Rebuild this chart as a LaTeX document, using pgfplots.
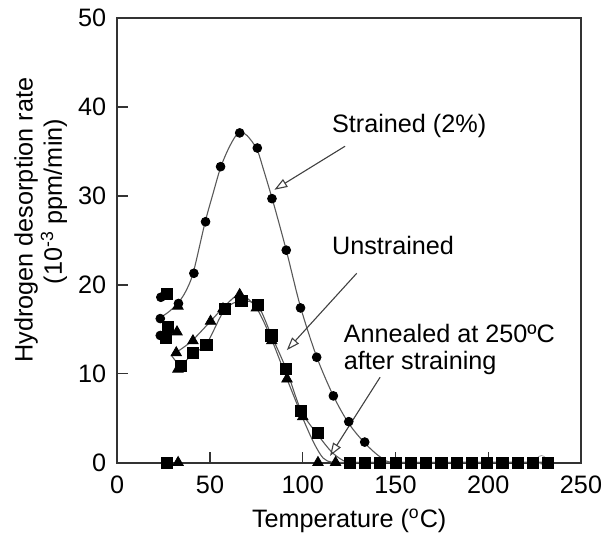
\documentclass[border=0pt]{standalone}
\usepackage{fontspec}
\setmainfont{Liberation Sans}
\usepackage{pgfplots}
\pgfplotsset{compat=1.18}
\usetikzlibrary{arrows.meta}
\newcommand\lab{\fontsize{12.6}{15}\selectfont}
\begin{document}
\begin{tikzpicture}
\begin{axis}[
  scale only axis, width=231.75pt, height=222pt,
  xmin=0, xmax=250, ymin=0, ymax=50,
  xtick={0,50,...,250}, ytick={0,10,...,50},
  tick align=inside, xtick pos=bottom, ytick pos=left, major tick length=5.5pt,
  axis line style={black!80, line width=1pt},
  tick style={black!80, line width=0.7pt},
  /pgf/number format/assume math mode=true,
  tick label style={font=\lab},
  yticklabel style={xshift=-2pt},
  xticklabel style={yshift=-3pt},
]
\coordinate (bl) at (rel axis cs:0,0);
\coordinate (tr) at (rel axis cs:1,1);
% fitted curves
\addplot[black!65, line width=0.55pt, smooth, tension=0.5] coordinates {
 (23.2,16.3) (28,17.0) (33,18.0) (37,19.3) (41,21.4) (47.3,27.0) (51.8,30.4) (55.7,33.2)
 (59.9,35.3) (64,36.8) (67,37.1) (70,36.8) (75.2,35.3) (78.8,33.0) (84.2,29.2)
 (91.1,23.9) (98.8,17.5) (107.5,11.9) (116.5,7.5) (124.8,4.4) (133.4,2.2) (142,0.6)
 (150,0) (190,0) (233,0)};
\addplot[black!65, line width=0.55pt, smooth, tension=0.5] coordinates {
 (29.4,12.1) (31.8,12.4) (36,13.0) (40.8,13.8) (50.3,15.9) (57,17.4) (66,18.9)
 (75,17.4) (83.3,13.8) (91.5,9.4) (100,5.0) (106,2.2) (111,0.5) (116,0.02) (125,0) (233,0)};
\addplot[black!65, line width=0.55pt, smooth, tension=0.5] coordinates {
 (29.4,12.0) (32,11.3) (34.5,10.9) (40.8,12.3) (48,13.3) (57.9,17.2) (66.9,18.2)
 (75.9,17.6) (83.1,14.3) (91.1,10.5) (99.2,5.8) (108.2,3.1) (116,1.1) (123.5,0.05) (130,0) (233,0)};
% strained (circles)
\addplot[only marks, mark=*, mark size=2.2pt, black] coordinates {
 (23.5,18.6) (23.2,16.2) (23.2,14.3) (33,17.9) (41.3,21.3) (47.6,27.1) (55.7,33.3)
 (66,37.1) (75.5,35.4) (83.4,29.7) (91.1,23.9) (98.8,17.4) (107.5,11.85) (116.5,7.5)
 (124.8,4.6) (133.4,2.3)};
\addplot[only marks, mark=o, mark size=2.2pt, black!35] coordinates {(228.7,0.3)};
% unstrained (triangles)
\addplot[only marks, mark=triangle*, mark size=3pt, black] coordinates {
 (32.7,17.6) (32.2,14.7) (31.8,12.35) (32.7,10.5) (40.8,13.7) (50.3,15.9) (57,17.3)
 (66,18.9) (75,17.4) (83.3,13.7) (91.5,9.4) (100,5.15) (108.2,0) (117.7,0) (32.8,0)};
% annealed (squares)
\addplot[only marks, mark=square*, mark size=2.8pt, black] coordinates {
 (26.6,19.0) (27.3,15.3) (26.4,14.0) (34.5,10.85) (40.8,12.35) (48,13.2) (57.9,17.3)
 (66.9,18.2) (75.9,17.7) (83.1,14.3) (91.1,10.5) (99.2,5.8) (108.2,3.3) (26.8,0)
 (125.3,0) (133.5,0) (141.8,0) (150.0,0) (158.2,0) (166.5,0) (174.7,0) (182.9,0)
 (191.1,0) (199.4,0) (207.6,0) (215.8,0) (224.1,0) (232.3,0)};
% annotations
\draw[black!75, line width=0.55pt, -{Triangle[open, length=6.5pt, width=4.5pt]}]
 (axis cs:122.8,35.6) -- (axis cs:84.7,30.7);
\draw[black!75, line width=0.55pt, -{Triangle[open, length=6.5pt, width=4.5pt]}]
 (axis cs:129.1,21.3) -- (axis cs:91.4,12.65);
\draw[black!75, line width=0.55pt, -{Triangle[open, length=6.5pt, width=4.5pt]}]
 (axis cs:141.7,9.6) -- (axis cs:114.7,0.74);
\node[anchor=base west, inner sep=0, font=\lab] at (axis cs:115.6,37.1) {Strained (2\%)};
\node[anchor=base west, inner sep=0, font=\lab] at (axis cs:115.6,23.4) {Unstrained};
\node[anchor=base west, inner sep=0, font=\lab] at (axis cs:121.9,13.5) {Annealed at 250ºC};
\node[anchor=base west, inner sep=0, font=\lab] at (axis cs:121.9,10.5) {after straining};
\end{axis}
\node[rotate=90, font=\lab, inner sep=0] at ([shift={(-45.6pt,121.15pt)}]bl) {Hydrogen desorption rate};
\node[rotate=90, font=\lab, inner sep=0] at ([shift={(-31.6pt,130.4pt)}]bl) {(10\textsuperscript{-3} ppm/min)};
\node[anchor=base, font=\lab, inner sep=0] at ([shift={(115.9pt,-32.35pt)}]bl) {Temperature (\textsuperscript{o}C)};
\pgfresetboundingbox
\path[use as bounding box] ([shift={(-58.6pt,-36.35pt)}]bl) rectangle ([shift={(10.5pt,9.15pt)}]tr);
\end{tikzpicture}
\end{document}
